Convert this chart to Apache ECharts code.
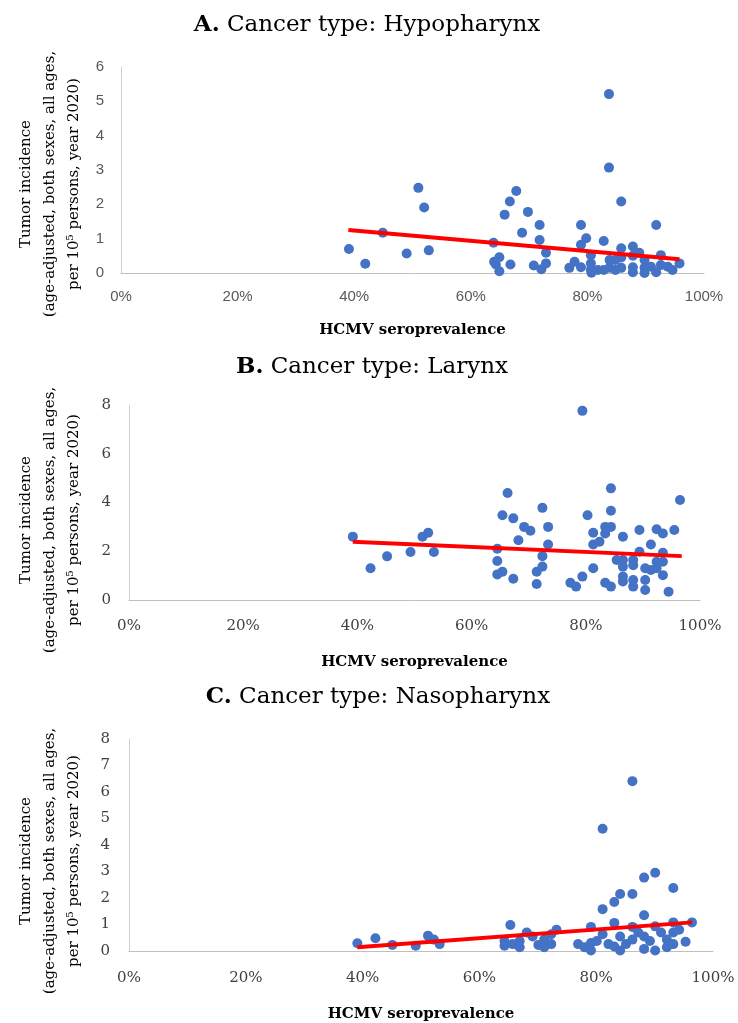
<!DOCTYPE html>
<html>
<head>
<meta charset="utf-8">
<script src="https://cdn.jsdelivr.net/npm/echarts@6/dist/echarts.min.js"></script>
<style>html,body{margin:0;padding:0;background:#fff}#c{width:738px;height:1023px}</style>
</head>
<body>
<div id="c"></div>
<script>
// Panel A: Hypopharynx
const hypoX = [39.1,41.9,44.9,49.0,51.0,52.0,52.8,63.9,64.0,64.9,64.3,64.9,65.8,66.7,66.8,67.8,68.8,69.8,70.8,71.8,71.8,72.1,72.9,72.9,76.9,77.8,78.9,78.9,79.8,78.9,80.6,80.6,80.6,80.7,81.8,82.8,82.8,83.7,83.7,83.8,83.8,84.8,84.8,85.8,85.8,85.8,85.8,87.8,87.8,87.8,87.8,88.9,89.8,89.8,89.8,90.9,91.8,91.8,92.6,92.6,93.8,94.6,95.8];
const hypoY = [0.70,0.27,1.17,0.57,2.48,1.91,0.66,0.88,0.33,0.46,0.25,0.05,1.70,2.08,0.25,2.39,1.17,1.78,0.22,1.40,0.96,0.11,0.59,0.28,0.15,0.33,1.40,0.82,1.01,0.17,0.52,0.28,0.09,0.01,0.09,0.93,0.09,5.21,3.07,0.38,0.15,0.38,0.09,2.08,0.72,0.45,0.15,0.77,0.50,0.17,0.02,0.59,0.38,0.15,0.00,0.18,1.40,0.02,0.52,0.23,0.18,0.09,0.28];
const hypoTrendX = [39.0, 95.8];
const hypoTrendY = [1.25, 0.40];

// Panel B: Larynx
const larX = [39.2,42.3,45.2,49.3,51.4,52.4,53.4,64.5,64.5,64.5,65.4,65.4,66.3,67.3,67.3,68.2,69.2,70.3,71.4,71.4,72.4,72.4,72.4,73.4,73.4,77.3,78.3,79.4,79.4,80.3,81.3,81.3,81.3,82.4,83.4,83.4,83.4,84.4,84.4,84.4,84.4,85.4,86.5,86.5,86.5,86.5,86.5,88.3,88.3,88.3,88.3,89.4,89.4,90.4,90.4,90.4,91.4,91.4,92.4,92.4,92.4,93.5,93.5,93.5,93.5,94.5,95.5,96.5];
const larY = [2.60,1.30,1.79,1.97,2.60,2.76,1.97,2.10,1.60,1.05,1.16,3.48,4.39,3.35,0.87,2.45,3.00,2.84,0.66,1.16,1.37,1.80,3.78,3.00,2.28,0.71,0.55,0.96,7.76,3.48,2.76,2.28,1.30,2.39,3.00,2.73,0.71,4.58,3.66,3.00,0.55,1.64,2.60,1.64,1.37,0.96,0.76,1.64,1.43,0.82,0.55,2.87,1.98,1.30,0.82,0.41,2.28,1.23,2.90,1.57,1.30,2.73,1.94,1.57,1.02,0.34,2.87,4.10];
const larTrendX = [39.2, 96.8];
const larTrendY = [2.39, 1.80];

// Panel C: Nasopharynx
const nasoX = [39.1,42.2,45.1,49.1,51.2,52.2,53.2,65.3,64.3,64.3,65.7,66.9,66.9,68.1,69.1,70.1,71.1,71.1,72.3,72.3,73.2,76.9,78.0,79.1,79.1,79.1,80.1,81.1,81.1,81.1,82.1,83.1,83.1,83.1,84.1,84.1,84.1,85.1,86.2,86.2,86.2,86.2,87.2,88.2,88.2,88.2,88.2,89.2,90.1,90.1,90.1,91.1,92.1,92.1,93.2,93.2,93.2,93.2,94.2,95.3,96.4];
const nasoY = [0.29,0.48,0.23,0.20,0.58,0.43,0.26,0.98,0.20,0.38,0.26,0.38,0.14,0.70,0.55,0.23,0.14,0.43,0.26,0.63,0.80,0.26,0.14,0.02,0.30,0.91,0.38,4.61,1.58,0.63,0.26,1.85,1.06,0.17,2.15,0.55,0.02,0.26,6.41,2.15,0.91,0.43,0.70,2.77,1.35,0.55,0.08,0.38,2.95,0.93,0.02,0.70,0.43,0.14,2.38,1.08,0.70,0.26,0.80,0.35,1.08];
const nasoTrendX = [39.1, 96.4];
const nasoTrendY = [0.14, 1.08];

const titles = [
  ['A.', ' Cancer type: Hypopharynx'],
  ['B.', ' Cancer type: Larynx'],
  ['C.', ' Cancer type: Nasopharynx']
];
const xName = 'HCMV seroprevalence';
const yName = 'Tumor incidence\n(age-adjusted, both sexes, all ages,\nper 10\u2075 persons, year 2020)';

const zip = (xs, ys) => xs.map((x, i) => [x, ys[i]]);

const SERIF = "'DejaVu Serif', 'Liberation Serif', serif";
const SANS = "'Liberation Sans', 'DejaVu Sans', sans-serif";

const grids = [
  {left: 121, top: 67, width: 583, height: 206},
  {left: 129, top: 405, width: 571, height: 195},
  {left: 129, top: 739, width: 584, height: 213}
];
const yCfg = [
  {max: 6, interval: 1, font: SANS, color: '#595959'},
  {max: 8, interval: 2, font: SERIF, color: '#404040'},
  {max: 8, interval: 1, font: SERIF, color: '#404040'}
];
const xFont = [SANS, SERIF, SERIF];
const xColor = ['#595959', '#404040', '#404040'];
const titleY = [25, 367, 697];
const titleX = [367, 372, 378];
const yNameY = [184, 520, 861];

const chart = echarts.init(document.getElementById('c'), null, {renderer: 'canvas'});

const option = {
  backgroundColor: '#fff',
  animation: false,
  grid: grids,
  xAxis: grids.map((g, i) => ({
    type: 'value', gridIndex: i, min: 0, max: 100, interval: 20,
    name: xName, nameLocation: 'middle', nameGap: [50, 55, 56][i],
    nameTextStyle: {fontFamily: SERIF, fontWeight: 'bold', fontSize: 15, color: '#000'},
    axisLine: {show: true, lineStyle: {color: '#bfbfbf', width: 1}},
    axisTick: {show: false},
    splitLine: {show: false},
    axisLabel: {formatter: v => v + '%', fontFamily: xFont[i], fontSize: 15, color: xColor[i], margin: [16, 19, 20][i]}
  })),
  yAxis: grids.map((g, i) => ({
    type: 'value', gridIndex: i, min: 0, max: yCfg[i].max, interval: yCfg[i].interval,
    axisLine: {show: true, lineStyle: {color: '#d0d0d0', width: 1}},
    axisTick: {show: false},
    splitLine: {show: false},
    axisLabel: {fontFamily: yCfg[i].font, fontSize: 15, color: yCfg[i].color, margin: [17, 18, 19][i]}
  })),
  graphic: [
    ...titles.map((t, i) => ({
      type: 'text', x: titleX[i], y: titleY[i],
      style: {
        text: '{b|' + t[0] + '}{n|' + t[1] + '}',
        align: 'center', verticalAlign: 'middle',
        rich: {
          b: {fontFamily: SERIF, fontWeight: 'bold', fontSize: 23, fill: '#000', color: '#000'},
          n: {fontFamily: SERIF, fontSize: 23, fill: '#000', color: '#000'}
        }
      }
    })),
    ...yNameY.map((cy, i) => ({
      type: 'text', x: 50, y: cy, rotation: Math.PI / 2,
      style: {
        text: yName, align: 'center', verticalAlign: 'middle',
        fontFamily: SERIF, fontSize: 15, lineHeight: 24, fill: '#000'
      }
    }))
  ],
  series: [
    [hypoX, hypoY, hypoTrendX, hypoTrendY],
    [larX, larY, larTrendX, larTrendY],
    [nasoX, nasoY, nasoTrendX, nasoTrendY]
  ].flatMap((d, i) => [
    {
      type: 'scatter', xAxisIndex: i, yAxisIndex: i,
      data: zip(d[0], d[1]), symbol: 'circle', symbolSize: 10,
      itemStyle: {color: '#4472C4', opacity: 1}, z: 2
    },
    {
      type: 'line', xAxisIndex: i, yAxisIndex: i,
      data: zip(d[2], d[3]), symbol: 'none',
      lineStyle: {color: '#ff0000', width: 4}, z: 3
    }
  ])
};
chart.setOption(option);
</script>
</body>
</html>
